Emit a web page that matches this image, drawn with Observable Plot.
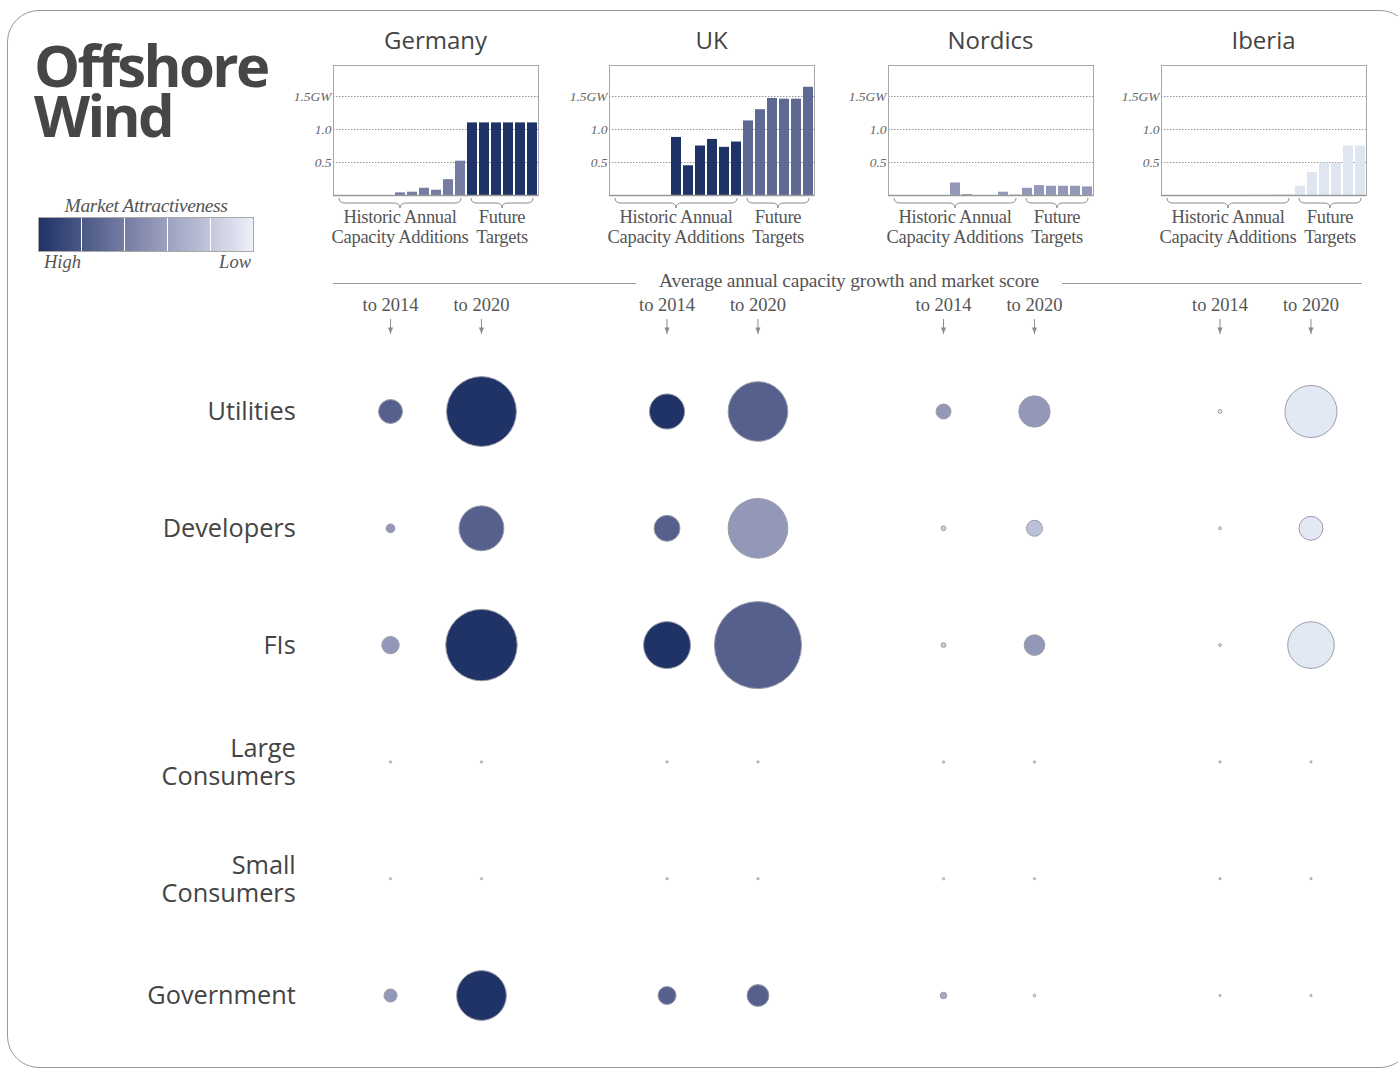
<!DOCTYPE html>
<html>
<head>
<meta charset="utf-8">
<script src="https://cdn.jsdelivr.net/npm/d3@7"></script>
<script src="https://cdn.jsdelivr.net/npm/@observablehq/plot@0.6"></script>
<style>
html, body { margin: 0; padding: 0; background: #fff; }
body { width: 1398px; height: 1070px; overflow: hidden; position: relative; font-family: "Open Sans", sans-serif; }
.abs { position: absolute; }
#frame { left: 7px; top: 10px; width: 1403px; height: 1056px; border: 1.5px solid #9a9a9a; border-radius: 32px; }
.title { left: 34px; font: 700 58px/50px "Open Sans", sans-serif; letter-spacing: -2.6px; color: #464646; height: 50px; white-space: nowrap; }
.country { top: 25px; width: 260px; text-align: center; font: 400 24px/30px "Open Sans", sans-serif; color: #444; }
.serif { font-family: "Liberation Serif", serif; color: #555; }
#legendTitle { left: 20px; top: 195px; width: 252px; text-align: center; font-style: italic; font-size: 19.5px; letter-spacing: -0.4px; }
#ramp { left: 38px; top: 217px; width: 214px; height: 33px; border: 1px solid #a8a8a8; }
.sep { position: absolute; top: 0; width: 1px; height: 33px; background: #fff; }
#high { left: 44px; top: 252px; font-style: italic; font-size: 18.5px; }
#low { left: 195px; top: 252px; width: 56px; text-align: right; font-style: italic; font-size: 18.5px; }
#growthLine { left: 333px; top: 283px; width: 1029px; height: 0; border-top: 1px solid #9a9a9a; }
#growthText { left: 849px; top: 270px; transform: translateX(-50%); background: #fff; padding: 0 23px; font-size: 19.5px; letter-spacing: -0.2px; white-space: nowrap; }
svg { overflow: visible; max-width: none !important; }
</style>
</head>
<body>
<div id="frame" class="abs"></div>
<div class="abs title" style="top:40px">Offshore</div>
<div class="abs title" style="top:90px">Wind</div>
<div id="legendTitle" class="abs serif">Market Attractiveness</div>
<div id="ramp" class="abs"></div>
<div id="high" class="abs serif">High</div>
<div id="low" class="abs serif">Low</div>
<div id="growthLine" class="abs"></div>
<div id="growthText" class="abs serif">Average annual capacity growth and market score</div>
<div id="charts"></div>
<script>
// ---------------- DATA ----------------
const countries = ["Germany", "UK", "Nordics", "Iberia"];
const periods = ["to 2014", "to 2020"];
const segments = ["Utilities", "Developers", "FIs", "Large Consumers", "Small Consumers", "Government"];
const segmentLabels = ["Utilities", "Developers", "FIs", "Large\nConsumers", "Small\nConsumers", "Government"];

// mini bar charts: annual capacity additions (GW)
const historicYears = ["2004","2005","2006","2007","2008","2009","2010","2011","2012","2013","2014"];
const futureYears = ["2015","2016","2017","2018","2019","2020"];
const barTicks = [0.5, 1.0, 1.5];
const barTickLabels = ["0.5", "1.0", "1.5GW"];
const germanyBars = [0, 0, 0, 0, 0, 0.04, 0.05, 0.11, 0.08, 0.24, 0.52, 1.10, 1.10, 1.10, 1.10, 1.10, 1.10];
const ukBars      = [0, 0, 0, 0, 0, 0.88, 0.45, 0.75, 0.85, 0.73, 0.81, 1.13, 1.30, 1.47, 1.46, 1.46, 1.64];
const nordicsBars = [0, 0, 0, 0, 0, 0.19, 0.015, 0, 0, 0.05, 0.005, 0.11, 0.15, 0.14, 0.14, 0.14, 0.13];
const iberiaBars  = [0, 0, 0, 0, 0, 0, 0, 0.005, 0.005, 0.01, 0.01, 0.14, 0.35, 0.49, 0.49, 0.75, 0.75];
// market attractiveness score of the bars (historic, future); 5 = high, 1 = low
const germanyBarScore = [3.4, 5];
const ukBarScore      = [5, 3.8];
const nordicsBarScore = [2.8, 2.8];
const iberiaBarScore  = [1.1, 1.1];

// bubbles: average annual capacity growth (index) per segment [to 2014, to 2020]
const germanyGrowth = [[7.4, 63], [1.0, 26], [3.9, 66], [0.06, 0.06], [0.06, 0.06], [2.2, 32]];
const ukGrowth      = [[16, 46], [8.7, 46], [28.5, 98], [0.06, 0.06], [0.06, 0.06], [4.2, 6.2]];
const nordicsGrowth = [[2.9, 12.7], [0.3, 3.3], [0.3, 5.5], [0.06, 0.06], [0.06, 0.06], [0.56, 0.1]];
const iberiaGrowth  = [[0.2, 35], [0.1, 7.4], [0.1, 28], [0.06, 0.06], [0.06, 0.06], [0.06, 0.06]];
// market score per segment [to 2014, to 2020]
const germanyScore = [[4, 5], [2.8, 4], [2.8, 5], [1, 1], [1, 1], [2.8, 5]];
const ukScore      = [[5, 4], [4, 2.8], [5, 4], [1, 1], [1, 1], [4, 4]];
const nordicsScore = [[2.8, 2.8], [1.6, 1.9], [1.6, 2.8], [1, 1], [1, 1], [2.4, 1]];
const iberiaScore  = [[1, 1], [1, 1], [1, 1], [1, 1], [1, 1], [1, 1]];

// ---------------- BUILD ----------------
const colorOpts = {type: "linear", domain: [1, 3, 5], range: ["#e3e9f4", "#8a8fb2", "#1f3366"]};
const cs = Plot.scale({color: colorOpts});

// legend ramp
const ramp = document.getElementById("ramp");
const stops = [5, 4, 3, 2, 1].map((s, i) => `${cs.apply(s)} ${i * 25}%`);
stops[4] = "#eef1f8 100%";
ramp.style.background = `linear-gradient(to right, ${stops.join(",")})`;
for (let i = 1; i < 5; i++) {
  const d = document.createElement("div");
  d.className = "sep";
  d.style.left = (i * 214 / 5 - 0.5) + "px";
  ramp.appendChild(d);
}

const charts = document.getElementById("charts");
const years = historicYears.concat(futureYears);
const barSets = [
  {name: "Germany", values: germanyBars, score: germanyBarScore, left: 333},
  {name: "UK", values: ukBars, score: ukBarScore, left: 609},
  {name: "Nordics", values: nordicsBars, score: nordicsBarScore, left: 888},
  {name: "Iberia", values: iberiaBars, score: iberiaBarScore, left: 1161}
];

function bracesMark(index, scales, values, dim) {
  const g = d3.create("svg:g");
  const x = scales.x;
  const step = x(years[1]) - x(years[0]);
  const y0 = dim.height - dim.marginBottom + 3;
  const groups = [
    {a: historicYears[0], b: historicYears[historicYears.length - 1], lines: ["Historic Annual", "Capacity Additions"]},
    {a: futureYears[0], b: futureYears[futureYears.length - 1], lines: ["Future", "Targets"]}
  ];
  for (const gr of groups) {
    const x1 = x(gr.a) + 5, x2 = x(gr.b) + step - 5, m = (x1 + x2) / 2;
    g.append("path")
      .attr("d", `M${x1},${y0} Q${x1},${y0 + 5} ${x1 + 6},${y0 + 5} L${m - 6},${y0 + 5} Q${m},${y0 + 5} ${m},${y0 + 10} Q${m},${y0 + 5} ${m + 6},${y0 + 5} L${x2 - 6},${y0 + 5} Q${x2},${y0 + 5} ${x2},${y0}`)
      .attr("fill", "none").attr("stroke", "#8c8c8c").attr("stroke-width", 1);
    gr.lines.forEach((t, i) => {
      g.append("text").attr("x", m).attr("y", y0 + 25 + i * 20)
        .attr("text-anchor", "middle")
        .attr("font-family", "Liberation Serif, serif").attr("font-size", 18.5)
        .attr("letter-spacing", "-0.3").attr("fill", "#555").attr("font-style", "normal")
        .text(t);
    });
  }
  return g.node();
}

for (const set of barSets) {
  const data = years.map((y, i) => ({year: y, value: set.values[i], score: i < historicYears.length ? set.score[0] : set.score[1]}));
  const plot = Plot.plot({
    width: 265, height: 200,
    marginLeft: 55, marginRight: 5, marginTop: 10, marginBottom: 60,
    x: {domain: years, padding: 0, axis: null},
    y: {domain: [0, 1.97], axis: null},
    color: colorOpts,
    style: {background: "transparent", overflow: "visible", maxWidth: "none"},
    marks: [
      Plot.ruleY(barTicks, {stroke: "#7a7a7a", strokeWidth: 0.8, strokeDasharray: "1.5,1.5"}),
      Plot.barY(data, {x: "year", y: "value", fill: "score", insetLeft: 1, insetRight: 1}),
      Plot.frame({stroke: "#a8a8a8"}),
      Plot.ruleY([0], {stroke: "#999", strokeWidth: 1.5}),
      Plot.axisY(barTicks, {anchor: "left", tickSize: 0, tickPadding: 2, label: null,
        tickFormat: d => barTickLabels[barTicks.indexOf(d)],
        fontFamily: "Liberation Serif, serif", fontStyle: "italic", fontSize: 13.5, fill: "#666", color: "#666"}),
      bracesMark
    ]
  });
  const wrap = document.createElement("div");
  wrap.className = "abs";
  wrap.style.left = (set.left - 55) + "px";
  wrap.style.top = "55px";
  wrap.appendChild(plot);
  charts.appendChild(wrap);

  const title = document.createElement("div");
  title.className = "abs country";
  title.style.left = (set.left + 102.5 - 130) + "px";
  title.textContent = set.name;
  charts.appendChild(title);
}

// bubbles
const growthAll = [germanyGrowth, ukGrowth, nordicsGrowth, iberiaGrowth];
const scoreAll = [germanyScore, ukScore, nordicsScore, iberiaScore];
const bubbles = countries.flatMap((c, ci) => segments.flatMap((s, si) => periods.map((p, pi) => ({
  country: c, segment: s, period: p, growth: growthAll[ci][si][pi], score: scoreAll[ci][si][pi]
}))));

const arrowHead = {draw(ctx) { ctx.moveTo(-2.6, -6); ctx.lineTo(2.6, -6); ctx.lineTo(0, 0); ctx.closePath(); }};

const bubblePlot = Plot.plot({
  width: 1403.75, height: 780,
  marginLeft: 297.25, marginRight: 0.5, marginTop: 43, marginBottom: 16.6,
  facet: {data: bubbles, x: "country"},
  fx: {domain: countries, padding: 0, round: false, axis: null, label: null},
  x: {domain: periods, padding: 1.02, round: false, label: null},
  y: {domain: segments, insetTop: 19.6, round: false, label: null},
  r: {domain: [0, 100], range: [0, 44]},
  color: colorOpts,
  style: {background: "transparent", overflow: "visible", maxWidth: "none"},
  marks: [
    Plot.axisX({anchor: "top", tickSize: 15, tickPadding: 8, label: null, stroke: "#8c8c8c", fill: "#555", color: "#555",
      fontSize: 18.5, fontFamily: "Liberation Serif, serif"}),
    Plot.dot(periods, {x: d => d, frameAnchor: "top", symbol: arrowHead, fill: "#8c8c8c", stroke: "none"}),
    Plot.axisY({anchor: "left", tickSize: 0, tickPadding: 2, label: null,
      tickFormat: d => segmentLabels[segments.indexOf(d)],
      fill: "#444", color: "#444", fontSize: 25.3, fontFamily: "Open Sans, sans-serif", lineHeight: 1.1}),
    Plot.dot(bubbles, {x: "period", y: "segment", r: "growth", fill: "score", stroke: "#9d9daa", strokeWidth: 1})
  ]
});
const bw = document.createElement("div");
bw.className = "abs";
bw.style.left = "0px";
bw.style.top = "290px";
bw.style.width = "1404px";
bw.appendChild(bubblePlot);
charts.appendChild(bw);
</script>
</body>
</html>
